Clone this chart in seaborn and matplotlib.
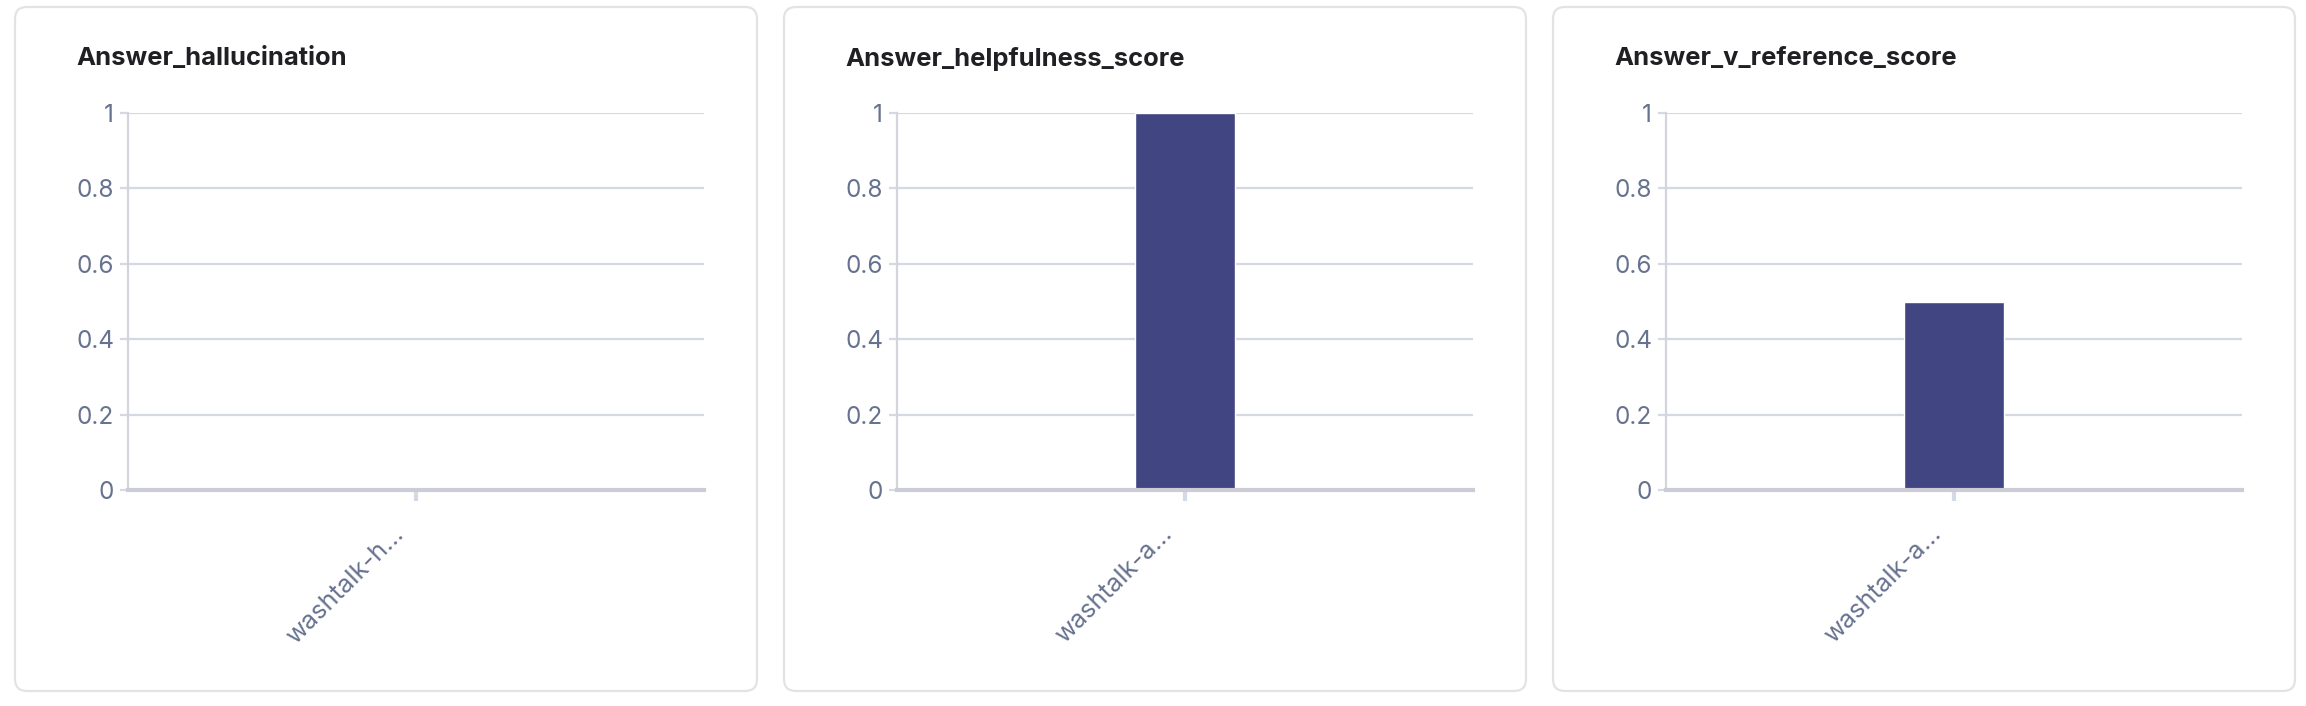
import matplotlib
matplotlib.use("Agg")
import matplotlib.pyplot as plt
import matplotlib.transforms as mtransforms
import seaborn as sns
from matplotlib.patches import FancyBboxPatch
from matplotlib.ticker import FuncFormatter

# chart data
titles = ["Answer_hallucination", "Answer_helpfulness_score", "Answer_v_reference_score"]
run_labels = [["washtalk-h…"], ["washtalk-a…"], ["washtalk-a…"]]
scores = [[0.0], [1.0], [0.5]]
y_ticks = [0, 0.2, 0.4, 0.6, 0.8, 1]

sns.set_theme(style="white")
plt.rcParams["font.family"] = ["Inter", "DejaVu Sans"]

W, H = 2306, 706
fig = plt.figure(figsize=(W / 100, H / 100), dpi=100)
fig.patch.set_facecolor("white")

bar_color = "#414581"
grid_color = "#d5d9e3"
tick_color = "#66728f"

for i in range(3):
    card_left = 15 + i * 769

    # card outline (pixel coords)
    card = FancyBboxPatch(
        (card_left, 15), 742, 684,
        boxstyle="round,pad=0,rounding_size=12",
        facecolor="none", edgecolor="#e2e3e7", linewidth=1.6,
        transform=None, zorder=-5
    )
    fig.patches.append(card)

    fig.text((card_left + 61) / W, 1 - 59 / H, titles[i],
             fontsize=18.4, fontweight="bold", color="#1f1f24",
             ha="left", va="center")

    ax_left = card_left + 113
    ax = fig.add_axes([ax_left / W, 1 - 490 / H, 576 / W, 377 / H])
    ax.set_facecolor("none")

    sns.barplot(x=run_labels[i], y=scores[i], ax=ax,
                color=bar_color, width=0.175, saturation=1)

    ax.set_xlim(-0.5, 0.5)
    ax.set_ylim(0, 1)
    ax.set_yticks(y_ticks)
    ax.yaxis.set_major_formatter(FuncFormatter(lambda v, p: f"{v:g}"))
    ax.set_axisbelow(True)
    ax.yaxis.grid(True, color=grid_color, linewidth=1.6)
    ax.xaxis.grid(False)

    for side in ["top", "right"]:
        ax.spines[side].set_visible(False)
    ax.spines["left"].set_color("#d3d5dd")
    ax.spines["left"].set_linewidth(1.6)
    ax.spines["bottom"].set_color("#cbccd5")
    ax.spines["bottom"].set_linewidth(3)

    ax.tick_params(axis="y", left=True, length=6, width=1.6, color=grid_color,
                   labelsize=17.5, labelcolor=tick_color, pad=4)
    ax.tick_params(axis="x", bottom=True, length=8, width=3, color="#d3dae6",
                   labelsize=18.3, labelcolor=tick_color, pad=21)
    shift = mtransforms.ScaledTranslation(-16 / 100, 0, fig.dpi_scale_trans)
    for lab in ax.get_xticklabels():
        lab.set_rotation(45)
        lab.set_ha("right")
        lab.set_va("center")
        lab.set_rotation_mode("anchor")
        lab.set_transform(lab.get_transform() + shift)

    ax.set_xlabel("")
    ax.set_ylabel("")

fig.savefig("out.png", dpi=100, facecolor="white")
